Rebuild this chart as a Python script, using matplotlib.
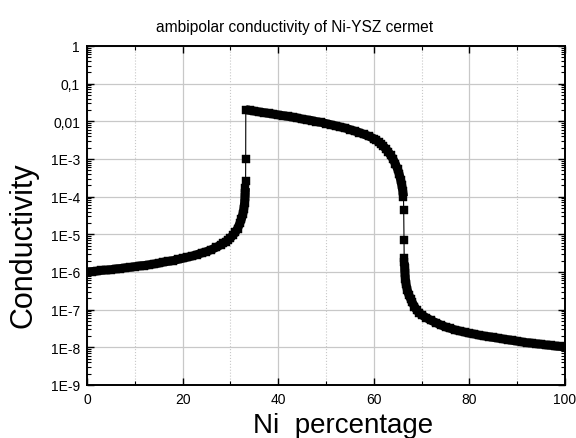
import matplotlib
matplotlib.use('Agg')
import matplotlib.pyplot as plt
from matplotlib.ticker import FixedLocator, FuncFormatter, LogLocator, NullFormatter
import numpy as np

plt.rcParams['font.family'] = ['Liberation Sans', 'DejaVu Sans']

# Ni percentage and log10(conductivity)
ni_low = [0, 1, 2, 3, 4, 5, 6, 7, 8, 9, 10, 11, 12, 13, 14, 15, 16, 17, 18, 19, 20,
          21, 22, 23, 24, 25, 26, 27, 28, 28.5, 29, 29.5, 30, 30.5, 31, 31.5, 32,
          32.3, 32.6, 32.8, 32.95, 33.05, 33.1, 33.15]
log_low = [-6.00, -5.99, -5.98, -5.96, -5.95, -5.94, -5.92, -5.91, -5.89, -5.88, -5.86,
           -5.84, -5.83, -5.81, -5.79, -5.77, -5.74, -5.72, -5.70, -5.67, -5.64,
           -5.61, -5.58, -5.54, -5.50, -5.46, -5.41, -5.35, -5.28, -5.24, -5.20, -5.15,
           -5.10, -5.03, -4.95, -4.85, -4.70, -4.60, -4.46, -4.33, -4.18, -4.02, -3.90,
           -3.77]

# isolated points on the first jump
ni_jump1 = [33.18, 33.2]
log_jump1 = [-3.59, -3.00]

ni_mid = [33.22, 34, 35, 36, 37, 38, 39, 40, 41, 42, 43, 44, 45, 46, 47, 48, 49, 50,
          51, 52, 53, 54, 55, 56, 57, 58, 59, 60, 60.5, 61, 61.5, 62, 62.5, 63, 63.5,
          64, 64.5, 65, 65.3, 65.6, 65.85, 66.05, 66.2]
log_mid = [-1.69, -1.71, -1.73, -1.75, -1.77, -1.79, -1.81, -1.83, -1.85, -1.87, -1.89,
           -1.91, -1.94, -1.96, -1.98, -2.01, -2.03, -2.06, -2.09, -2.12, -2.15, -2.18,
           -2.22, -2.26, -2.30, -2.35, -2.40, -2.46, -2.50, -2.55, -2.60, -2.66, -2.73,
           -2.81, -2.90, -3.00, -3.13, -3.28, -3.40, -3.55, -3.70, -3.85, -4.00]

# isolated points on the second drop
ni_jump2 = [66.25, 66.3, 66.35]
log_jump2 = [-4.35, -5.15, -5.62]

ni_high = [66.4, 66.45, 66.5, 66.6, 66.75, 67, 67.3, 67.7, 68, 68.5, 69, 69.5, 70, 71,
           72, 73, 74, 75, 76, 77, 78, 79, 80, 81, 82, 83, 84, 85, 86, 87, 88, 89, 90,
           91, 92, 93, 94, 95, 96, 97, 98, 99, 100]
log_high = [-5.75, -5.90, -6.02, -6.18, -6.33, -6.48, -6.60, -6.72, -6.80, -6.92, -7.02,
            -7.09, -7.14, -7.22, -7.29, -7.35, -7.41, -7.46, -7.50, -7.54, -7.57, -7.60,
            -7.63, -7.65, -7.68, -7.70, -7.72, -7.74, -7.76, -7.78, -7.80, -7.82, -7.84,
            -7.86, -7.88, -7.89, -7.91, -7.92, -7.94, -7.95, -7.97, -7.98, -8.00]

y_ticks = [1e-9, 1e-8, 1e-7, 1e-6, 1e-5, 1e-4, 1e-3, 1e-2, 1e-1, 1]
y_labels = ['1E-9', '1E-8', '1E-7', '1E-6', '1E-5', '1E-4', '1E-3', '0,01', '0,1', '1']

x = ni_low + ni_jump1 + ni_mid + ni_jump2 + ni_high
y = 10 ** np.array(log_low + log_jump1 + log_mid + log_jump2 + log_high)

fig = plt.figure(figsize=(5.76, 4.39), dpi=100)
ax = fig.add_axes([0.151, 0.121, 0.830, 0.772])

# the densely packed markers read as a thick band
for sx, sl in [(ni_low, log_low), (ni_mid, log_mid), (ni_high, log_high)]:
    ax.plot(sx, 10 ** np.array(sl), color='black', lw=6.4, solid_capstyle='butt',
            solid_joinstyle='round', zorder=3)
ax.plot(x, y, color='black', lw=0.8, marker='s', ms=5.8, mfc='black', mec='black',
        mew=0.3, zorder=4)

ax.set_yscale('log')
ax.set_xlim(0, 100)
ax.set_ylim(1e-9, 1)

ax.xaxis.set_major_locator(FixedLocator([0, 20, 40, 60, 80, 100]))
ax.xaxis.set_minor_locator(FixedLocator([10, 30, 50, 70, 90]))
ax.yaxis.set_major_locator(FixedLocator(y_ticks))
ax.yaxis.set_major_formatter(FuncFormatter(
    lambda v, p: y_labels[int(round(np.log10(v))) + 9]))
ax.yaxis.set_minor_locator(LogLocator(base=10, subs=np.arange(2, 10), numticks=20))
ax.yaxis.set_minor_formatter(NullFormatter())

ax.grid(True, which='major', color='#c8c8c8', lw=0.9, ls='-')
ax.grid(True, which='minor', axis='x', color='#c8c8c8', lw=0.8, ls=':')
ax.set_axisbelow(True)

ax.tick_params(which='both', direction='in', top=True, right=True, labelsize=10,
               colors='black')
ax.tick_params(which='major', length=5, width=1, pad=5)
ax.tick_params(which='minor', length=3, width=0.8)
for s in ax.spines.values():
    s.set_linewidth(1.4)

ax.set_title('ambipolar conductivity of Ni-YSZ cermet', fontsize=11.2, x=0.435, y=1.0,
             pad=11)
ax.set_xlabel('Ni  percentage', fontsize=20)
ax.xaxis.set_label_coords(0.536, -0.118)
ax.xaxis.label.set_va('center')
ax.set_ylabel('Conductivity', fontsize=22)
ax.yaxis.set_label_coords(-0.132, 0.416)
ax.yaxis.label.set_va('center')

fig.savefig('out.png', dpi=100)
